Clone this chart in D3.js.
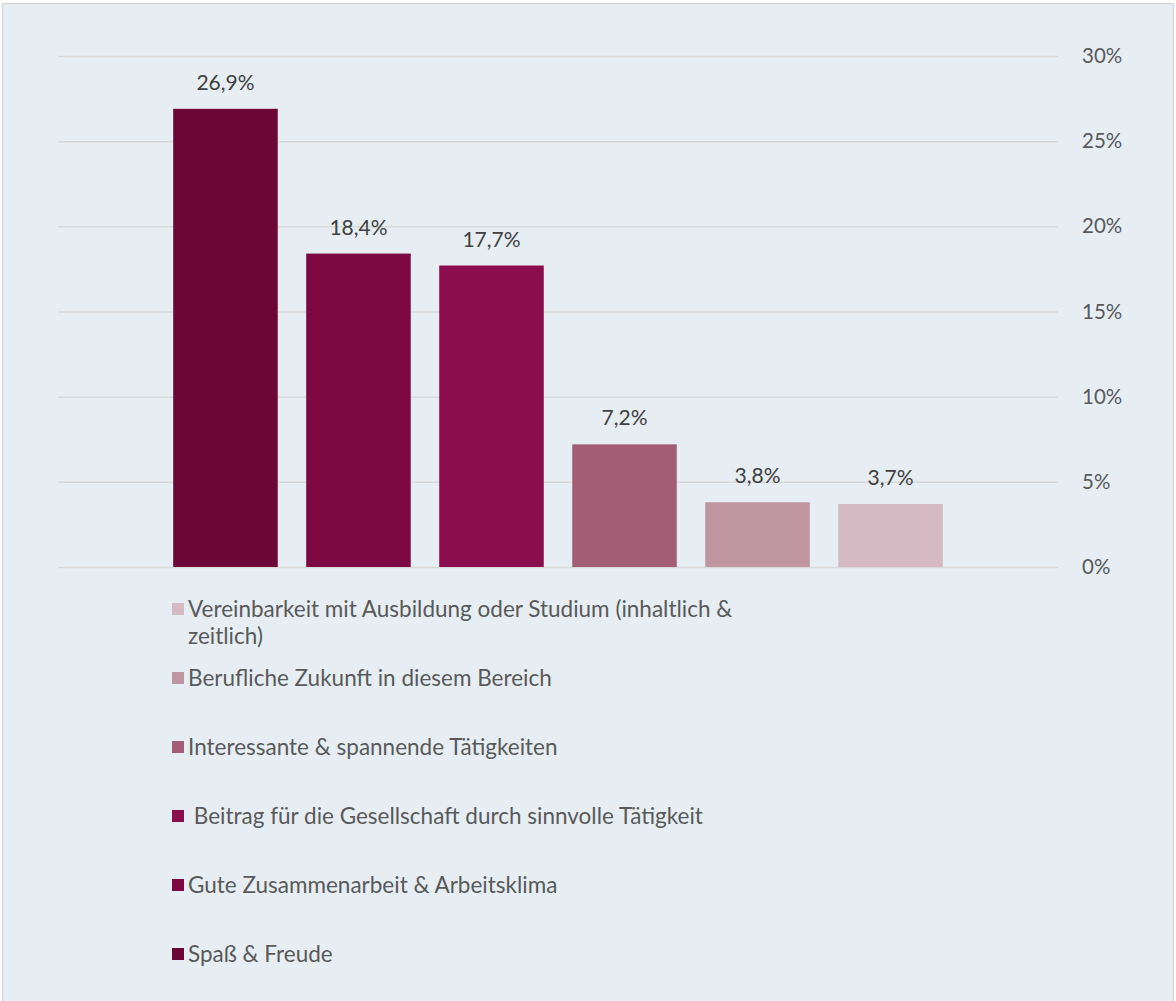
<!DOCTYPE html>
<html>
<head>
<meta charset="utf-8">
<script src="https://cdn.jsdelivr.net/npm/d3@7"></script>
<style>
  html, body { margin: 0; padding: 0; background: #ffffff; }
  svg { display: block; }
</style>
</head>
<body>
<svg id="chart" width="1176" height="1001"></svg>
<script>
// Series (one bar each), their values in percent, and fills
const seriesNames = [
  "Spaß & Freude",
  "Gute Zusammenarbeit & Arbeitsklima",
  " Beitrag für die Gesellschaft durch sinnvolle Tätigkeit",
  "Interessante & spannende Tätigkeiten",
  "Berufliche Zukunft in diesem Bereich",
  "Vereinbarkeit mit Ausbildung oder Studium (inhaltlich & zeitlich)"
];
const seriesValues = [26.9, 18.4, 17.7, 7.2, 3.8, 3.7];
const seriesColors = ["#6b0637", "#7d0942", "#8c0d4e", "#a35d75", "#bf959f", "#d5bac3"];
const yTicks = [0, 5, 10, 15, 20, 25, 30];

const font = "Lato, 'Open Sans', sans-serif";
const svg = d3.select("#chart");

// panel background and frame
svg.append("rect")
  .attr("x", 2.5).attr("y", 3.5).attr("width", 1171).attr("height", 1000)
  .attr("fill", "#e6eef4").attr("stroke", "#d9d9d9").attr("stroke-width", 1.5);

const plot = { left: 58, right: 1058, top: 56, bottom: 567 };

const x = d3.scaleBand()
  .domain(seriesNames)
  .range([plot.left, plot.right])
  .paddingInner(0.214)
  .paddingOuter(0.866);

const y = d3.scaleLinear().domain([0, 30]).range([plot.bottom, plot.top]);

// gridlines + right-hand axis labels
const yAxis = d3.axisRight(y)
  .tickValues(yTicks)
  .tickSize(-(plot.right - plot.left))
  .tickPadding(24)
  .tickFormat(d => d + "%");

const gAxis = svg.append("g")
  .attr("transform", `translate(${plot.right},0)`)
  .call(yAxis);
gAxis.select(".domain").remove();
gAxis.selectAll(".tick line").attr("stroke", "#d9d9d9").attr("stroke-width", 1.5);
gAxis.selectAll(".tick text")
  .attr("fill", "#595959")
  .style("font-family", font)
  .style("font-size", "20.5px");

// bars
svg.append("g").selectAll("rect")
  .data(seriesNames)
  .join("rect")
  .attr("x", d => x(d))
  .attr("width", x.bandwidth())
  .attr("y", (d, i) => y(seriesValues[i]))
  .attr("height", (d, i) => y(0) - y(seriesValues[i]))
  .attr("fill", (d, i) => seriesColors[i]);

// value labels
svg.append("g").selectAll("text")
  .data(seriesNames)
  .join("text")
  .attr("x", d => x(d) + x.bandwidth() / 2)
  .attr("y", (d, i) => y(seriesValues[i]) - 19)
  .attr("text-anchor", "middle")
  .attr("fill", "#404040")
  .style("font-family", font)
  .style("font-size", "21px")
  .text((d, i) => d3.format(".1f")(seriesValues[i]).replace(".", ",") + "%");

// legend, last series listed first; long names wrap onto a second line
const legendEntries = seriesNames.map((name, i) => ({ name, color: seriesColors[i] })).reverse();
const legendLines = [
  ["Vereinbarkeit mit Ausbildung oder Studium (inhaltlich &", "zeitlich)"],
  ["Berufliche Zukunft in diesem Bereich"],
  ["Interessante & spannende Tätigkeiten"],
  [" Beitrag für die Gesellschaft durch sinnvolle Tätigkeit"],
  ["Gute Zusammenarbeit & Arbeitsklima"],
  ["Spaß & Freude"]
];
const legendTop = [609, 678, 747, 816, 885, 954];

const legend = svg.append("g");
legendEntries.forEach((e, i) => {
  const cy = legendTop[i];
  legend.append("rect")
    .attr("x", 172).attr("y", cy - 6).attr("width", 12).attr("height", 12)
    .attr("fill", e.color);
  const t = legend.append("text")
    .attr("x", 188).attr("y", cy)
    .attr("fill", "#595959")
    .style("font-family", font)
    .style("font-size", "22.5px")
    .style("white-space", "pre")
    .attr("xml:space", "preserve");
  legendLines[i].forEach((line, k) => {
    t.append("tspan").attr("x", 188).attr("dy", k === 0 ? "0.35em" : "27px").text(line);
  });
});
</script>
</body>
</html>
